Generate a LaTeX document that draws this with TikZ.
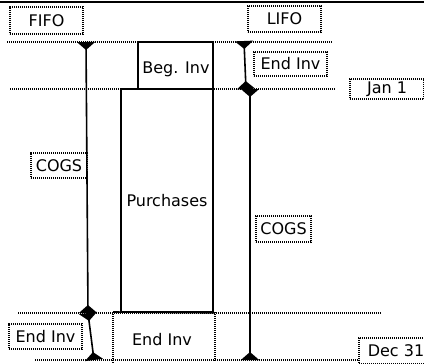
\documentclass[tikz,border=0pt]{standalone}
\usepackage{fontspec}
\setmainfont{DejaVu Sans}
\usetikzlibrary{arrows.meta}
\begin{document}
\begin{tikzpicture}[x=1pt,y=-1pt,
  dots/.style={line width=1.7pt, dash pattern=on 1.1pt off 0.9pt},
  lbl/.style={draw, dots, inner sep=0pt, font=\fontsize{16}{19}\selectfont},
  txt/.style={font=\fontsize{16}{19}\selectfont, inner sep=0pt},
  solidline/.style={line width=1.6pt},
  half/.tip={Triangle[reversed,length=8pt,width=18pt]},
  conn/.style={solidline, half-half},
]
\useasboundingbox (0,0) rectangle (424,364);
% top border
\coordinate (tl) at (0,2);
\coordinate (tr) at (424,2);
\draw[line width=2.5pt] (tl) -- (tr);
% dotted guide lines
\coordinate (h1a) at (7,42);   \coordinate (h1b) at (332,42);
\coordinate (h2a) at (10,89);  \coordinate (h2b) at (335,89);
\coordinate (h3a) at (18,313); \coordinate (h3b) at (381,313);
\coordinate (h4a) at (35,360); \coordinate (h4b) at (359,360);
\draw[dots] (h1a) -- (h1b);
\draw[dots] (h2a) -- (h2b);
\draw[dots] (h3a) -- (h3b);
\draw[dots] (h4a) -- (h4b);
% boxes
\node[draw, solidline, minimum width=75pt, minimum height=47pt, inner sep=0pt] (beg) at (175.5,65.5) {};
\node[txt] (begt) at (176,69) {Beg. Inv};
\node[draw, solidline, minimum width=92pt, minimum height=223pt, inner sep=0pt, txt] (pur) at (167,200.5) {Purchases};
% bottom End Inv area
\coordinate (e1) at (113,312); \coordinate (e2) at (113,364);
\coordinate (e3) at (215,312); \coordinate (e4) at (215,361);
\draw[solidline] (e1) -- (pur.south east);
\draw[dots] (e1) -- (e2);
\draw[dots] (e3) -- (e4);
\node[txt] (endb) at (162,340) {End Inv};
% labels
\node[lbl, minimum width=73pt, minimum height=27pt] (fifo) at (46.5,20.5) {FIFO};
\node[lbl, minimum width=73pt, minimum height=26pt] (lifo) at (284.5,19) {LIFO};
\node[lbl, minimum width=73pt, minimum height=24pt] (endu) at (290.5,64) {End Inv};
\node[lbl, minimum width=74pt, minimum height=20pt] (jan) at (387,89) {Jan 1};
\node[lbl, minimum width=56pt, minimum height=25pt] (cogsl) at (59,165.5) {COGS};
\node[lbl, minimum width=55pt, minimum height=26pt] (cogsr) at (283.5,229) {COGS};
\node[lbl, minimum width=73pt, minimum height=25pt] (endl) at (45.5,336.5) {End Inv};
\node[lbl, minimum width=74pt, minimum height=26pt] (dec) at (396,351) {Dec 31};
% FIFO connectors
\coordinate (f1) at (86,42);
\coordinate (f2) at (88,313);
\coordinate (f3) at (94,360);
\draw[conn] (f1) -- (f2);
\draw[conn] (f2) -- (f3);
% LIFO connectors
\coordinate (l1) at (244,41);
\coordinate (l2) at (246,89);
\coordinate (l3) at (250,89);
\coordinate (l4) at (250,360);
\draw[conn] (l1) -- (l2);
\draw[conn] (l3) -- (l4);
\end{tikzpicture}
\end{document}
